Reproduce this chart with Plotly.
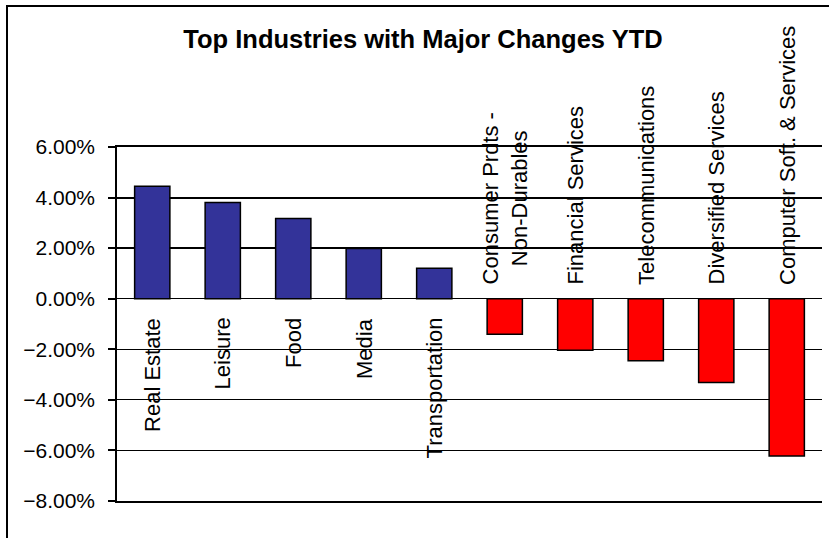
import plotly.graph_objects as go

categories = ["Real Estate", "Leisure", "Food", "Media", "Transportation",
              "Consumer Prdts -<br>Non-Durables", "Financial Services",
              "Telecommunications", "Diversified Services",
              "Computer Soft. & Services"]
values = [0.0445, 0.0381, 0.0317, 0.0199, 0.0120,
          -0.0141, -0.0204, -0.0245, -0.0331, -0.0622]
tick_values = [-0.08, -0.06, -0.04, -0.02, 0.0, 0.02, 0.04, 0.06]
upper_grid = [0.02, 0.04, 0.06]

W, H = 829, 538
L, R, T, B = 117, 7, 147, 37
pw, ph = W - L - R, H - T - B

FONT = "Liberation Sans, Arial, sans-serif"
BLUE = "#333399"
RED = "#FF0000"

colors = [BLUE if v >= 0 else RED for v in values]

fig = go.Figure()
fig.add_trace(go.Bar(
    x=list(range(len(categories))), y=values,
    marker=dict(color=colors, line=dict(color="black", width=1.5)),
    width=0.5, showlegend=False, hoverinfo="skip",
))

annotations = []
for i, (c, v) in enumerate(zip(categories, values)):
    if v >= 0:
        annotations.append(dict(x=i, y=0, xref="x", yref="y", text=c,
                                textangle=-90, showarrow=False,
                                xanchor="center", yanchor="top", yshift=-17,
                                font=dict(family=FONT, size=22, color="black")))
    else:
        annotations.append(dict(x=i, y=0, xref="x", yref="y", text=c,
                                textangle=-90, showarrow=False,
                                xanchor="center", yanchor="bottom", yshift=12,
                                align="center",
                                font=dict(family=FONT, size=22, color="black")))

# outer chart border (left/top visible, right/bottom run off the image)
fig.add_shape(type="rect", xref="paper", yref="paper",
              x0=(7 - L) / pw, x1=(W + 200 - L) / pw,
              y0=-(H + 200 - (H - B)) / ph, y1=((H - B) - 6) / ph,
              line=dict(color="black", width=2), layer="below")

fig.update_layout(
    width=W, height=H,
    margin=dict(l=L, r=R, t=T, b=B),
    paper_bgcolor="white", plot_bgcolor="white",
    font=dict(family=FONT, size=21, color="black"),
    title=dict(text="<b>Top Industries with Major Changes YTD</b>",
               xref="container", yref="container",
               x=423 / W, y=1 - 39 / H, xanchor="center", yanchor="middle",
               font=dict(family=FONT, size=25.5, color="black")),
    annotations=annotations,
    bargap=0.5,
    xaxis=dict(range=[-0.5, len(categories) - 0.5], showticklabels=False,
               showgrid=False, zeroline=False, showline=True, mirror=True,
               linecolor="black", linewidth=1.5, ticks=""),
    yaxis=dict(range=[-0.08, 0.06], tickvals=tick_values, tickformat=".2%",
               showgrid=True, gridcolor="black", gridwidth=1,
               zeroline=True, zerolinecolor="black", zerolinewidth=1,
               showline=True, linecolor="black", linewidth=1.5,
               ticks="outside", ticklen=7, tickwidth=1.5, tickcolor="black",
               ticklabelstandoff=9,
               tickfont=dict(family=FONT, size=21, color="black")),
    yaxis2=dict(range=[-0.08, 0.06], overlaying="y", tickvals=upper_grid,
                showticklabels=False, showgrid=True, gridcolor="black",
                gridwidth=2, zeroline=False, showline=False, ticks=""),
)
fig.add_trace(go.Scatter(x=[None], y=[None], yaxis="y2", showlegend=False,
                         hoverinfo="skip"))

fig.write_html("out.html")
